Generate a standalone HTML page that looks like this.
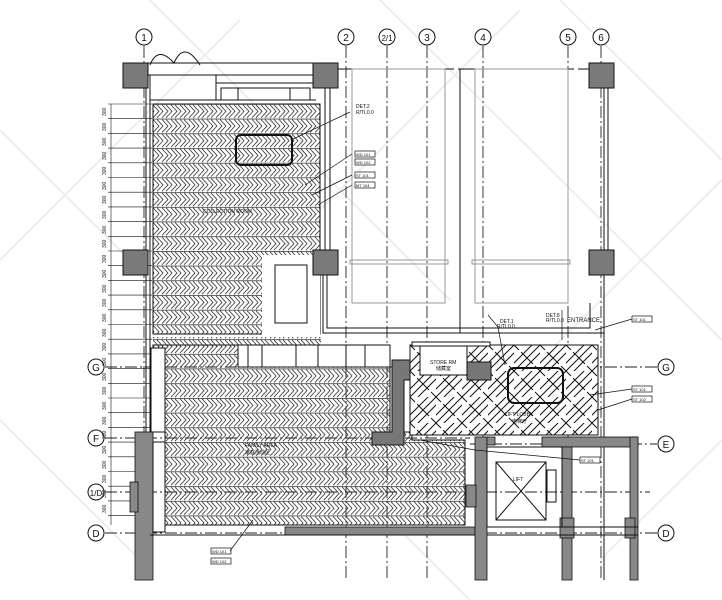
<!DOCTYPE html>
<html><head><meta charset="utf-8"><style>
html,body{margin:0;padding:0;background:#fff;}
svg{display:block;font-family:"Liberation Sans",sans-serif;}
</style></head><body>
<svg width="722" height="600" viewBox="0 0 722 600" xmlns="http://www.w3.org/2000/svg">
<defs>
<pattern id="hb" x="0" y="104" width="9" height="14.7" patternUnits="userSpaceOnUse">
<line x1="0" y1="0.3" x2="9" y2="0.3" stroke="#111" stroke-width="0.7"/>
<path d="M0,0.8 L6,7.3 L0,13.8 M4,0.8 L10,7.3 L4,13.8 M-5,0.8 L1,7.3 L-5,13.8 M9,0.8 L15,7.3 L9,13.8" fill="none" stroke="#333" stroke-width="0.8"/>
</pattern>
<pattern id="wv" x="410" y="345" width="26" height="26" patternUnits="userSpaceOnUse">
<rect width="26" height="26" fill="#fff"/>
<path d="M0,26 L26,0 M0,0 L26,26 M-4,22 L22,-4 M4,30 L30,4" fill="none" stroke="#111" stroke-width="1"/>
<path d="M3,9 L9,3 M17,23 L23,17" stroke="#fff" stroke-width="3"/>
</pattern>
</defs>

<!-- watermark diagonals -->
<g stroke="#eeeeee" stroke-width="2" fill="none">
<path d="M0,130 L200,330 M150,0 L450,300 M380,0 L722,340 M560,0 L722,160 M0,420 L150,570 M250,380 L470,600"/>
<path d="M0,260 L240,20 M200,330 L520,10 M450,450 L722,180 M600,560 L722,440"/>
</g>

<!-- grid lines -->
<g stroke="#222" stroke-width="0.9" stroke-dasharray="12,3,2,3" fill="none">
<line x1="144" y1="46" x2="144" y2="580"/>
<line x1="346" y1="46" x2="346" y2="580"/>
<line x1="387" y1="46" x2="387" y2="580"/>
<line x1="427" y1="46" x2="427" y2="580"/>
<line x1="483" y1="46" x2="483" y2="580"/>
<line x1="568" y1="46" x2="568" y2="580"/>
<line x1="601" y1="46" x2="601" y2="580"/>
<line x1="105" y1="367" x2="657" y2="367"/>
<line x1="105" y1="438" x2="470" y2="438"/>
<line x1="470" y1="444" x2="657" y2="444"/>
<line x1="105" y1="492" x2="650" y2="492"/>
<line x1="105" y1="533" x2="657" y2="533"/>
</g>

<!-- bubbles -->
<g fill="#fff" stroke="#111" stroke-width="1" font-size="10" text-anchor="middle">
<circle cx="144" cy="37" r="8"/><text x="144" y="41" stroke="none" fill="#111">1</text>
<circle cx="346" cy="37" r="8"/><text x="346" y="41" stroke="none" fill="#111">2</text>
<circle cx="387" cy="37" r="8"/><text x="387" y="41" stroke="none" fill="#111" font-size="8">2/1</text>
<circle cx="427" cy="37" r="8"/><text x="427" y="41" stroke="none" fill="#111">3</text>
<circle cx="483" cy="37" r="8"/><text x="483" y="41" stroke="none" fill="#111">4</text>
<circle cx="568" cy="37" r="8"/><text x="568" y="41" stroke="none" fill="#111">5</text>
<circle cx="601" cy="37" r="8"/><text x="601" y="41" stroke="none" fill="#111">6</text>
<circle cx="96" cy="367" r="8"/><text x="96" y="371" stroke="none" fill="#111">G</text>
<circle cx="96" cy="438" r="8"/><text x="96" y="442" stroke="none" fill="#111">F</text>
<circle cx="96" cy="492" r="8"/><text x="96" y="496" stroke="none" fill="#111" font-size="8">1/D</text>
<circle cx="96" cy="533" r="8"/><text x="96" y="537" stroke="none" fill="#111">D</text>
<circle cx="666" cy="367" r="8"/><text x="666" y="371" stroke="none" fill="#111">G</text>
<circle cx="666" cy="444" r="8"/><text x="666" y="448" stroke="none" fill="#111">E</text>
<circle cx="666" cy="533" r="8"/><text x="666" y="537" stroke="none" fill="#111">D</text>
</g>

<!-- left dimension string -->
<g stroke="#111" stroke-width="0.6" fill="none">
<line x1="111" y1="104" x2="111" y2="525"/>
<path d="M108,104h44 M108,118.7h44 M108,133.4h44 M108,148.1h44 M108,162.8h44 M108,177.5h44 M108,192.2h44 M108,206.9h44 M108,221.6h44 M108,236.3h44 M108,251h44 M108,265.7h44 M108,280.4h44 M108,295.1h44 M108,309.8h44 M108,324.5h44 M108,339.2h44 M108,353.9h44 M108,368.6h44 M108,383.3h44 M108,398h44 M108,412.7h44 M108,427.4h44 M108,442.1h44 M108,456.8h44 M108,471.5h44 M108,486.2h44 M108,500.9h44 M108,515.6h44"/>
</g>
<g font-size="5" fill="#111">
<text transform="translate(106,116) rotate(-90)">300</text><text transform="translate(106,131) rotate(-90)">300</text><text transform="translate(106,146) rotate(-90)">300</text><text transform="translate(106,160) rotate(-90)">300</text><text transform="translate(106,175) rotate(-90)">300</text><text transform="translate(106,190) rotate(-90)">300</text><text transform="translate(106,204) rotate(-90)">300</text><text transform="translate(106,219) rotate(-90)">300</text><text transform="translate(106,234) rotate(-90)">300</text><text transform="translate(106,248) rotate(-90)">300</text><text transform="translate(106,263) rotate(-90)">300</text><text transform="translate(106,278) rotate(-90)">300</text><text transform="translate(106,293) rotate(-90)">300</text><text transform="translate(106,307) rotate(-90)">300</text><text transform="translate(106,322) rotate(-90)">300</text><text transform="translate(106,337) rotate(-90)">300</text><text transform="translate(106,351) rotate(-90)">300</text><text transform="translate(106,366) rotate(-90)">300</text><text transform="translate(106,381) rotate(-90)">300</text><text transform="translate(106,395) rotate(-90)">300</text><text transform="translate(106,410) rotate(-90)">300</text><text transform="translate(106,425) rotate(-90)">300</text><text transform="translate(106,439) rotate(-90)">300</text><text transform="translate(106,454) rotate(-90)">300</text><text transform="translate(106,469) rotate(-90)">300</text><text transform="translate(106,483) rotate(-90)">300</text><text transform="translate(106,498) rotate(-90)">300</text><text transform="translate(106,513) rotate(-90)">300</text>
</g>

<!-- top room walls -->
<g fill="none" stroke="#111" stroke-width="1">
<rect x="148" y="63" width="165" height="12"/>
<rect x="150" y="75" width="66" height="25"/>
<path d="M216,100 V83 H313 M221,100 V88 H310 V100"/>
<line x1="238" y1="88" x2="238" y2="100"/><line x1="290" y1="88" x2="290" y2="100"/>
<path d="M150,65 Q158,45 174,63 Q184,40 200,65"/>
<line x1="150" y1="100" x2="316" y2="100"/>
<line x1="150" y1="100" x2="150" y2="432"/>
<line x1="146" y1="88" x2="146" y2="432"/>
<line x1="325" y1="88" x2="325" y2="250"/>
<line x1="330" y1="88" x2="330" y2="250"/>
<path d="M323,274 V333 H604 M327,274 V328 H590 V303"/>
<line x1="604" y1="88" x2="604" y2="580"/><line x1="608" y1="88" x2="608" y2="250"/>
<line x1="338" y1="69" x2="589" y2="69" stroke-dasharray="20,4"/>
</g>
<g fill="none" stroke="#999" stroke-width="1">
<rect x="352" y="69" width="93" height="234"/>
<rect x="475" y="69" width="93" height="234"/>
<rect x="350" y="260" width="98" height="4"/>
<rect x="472" y="260" width="98" height="4"/>
</g>
<line x1="460" y1="69" x2="460" y2="333" stroke="#111" stroke-width="1"/>

<!-- herringbone areas -->
<rect x="153" y="104" width="167" height="230" fill="url(#hb)" stroke="#111" stroke-width="1"/>
<rect x="262" y="255" width="58" height="82" fill="#fff"/>
<rect x="275" y="265" width="32" height="58" fill="#fff" stroke="#111"/>
<path d="M153,345 H240 V367 H390 V432 H412 V440 H465 V525 H165 V432 H153 Z" fill="url(#hb)" stroke="#111"/>
<rect x="153" y="337" width="168" height="10" fill="url(#hb)"/>
<!-- bench -->
<g fill="#fff" stroke="#111">
<rect x="238" y="345" width="152" height="22"/>
<line x1="248" y1="345" x2="248" y2="367"/><line x1="262" y1="345" x2="262" y2="367"/><line x1="296" y1="345" x2="296" y2="367"/><line x1="318" y1="345" x2="318" y2="367"/><line x1="346" y1="345" x2="346" y2="367"/><line x1="365" y1="345" x2="365" y2="367"/>
<rect x="151" y="348" width="14" height="84"/>
</g>
<rect x="236" y="135" width="56" height="30" rx="5" fill="none" stroke="#111" stroke-width="2"/>

<!-- lobby weave -->
<path d="M410,345 H598 V435 H410 Z" fill="url(#wv)" stroke="#111"/>
<rect x="508" y="368" width="55" height="35" rx="6" fill="none" stroke="#111" stroke-width="2"/>
<rect x="420" y="345" width="47" height="30" fill="#fff" stroke="#111"/>
<rect x="412" y="342" width="78" height="4" fill="#fff" stroke="#111"/>

<!-- store room gray -->
<g fill="#777" stroke="#111" stroke-width="1">
<path d="M392,360 H410 V380 H404 V445 H372 V432 H392 Z"/>
<rect x="467" y="362" width="24" height="18"/>
</g>

<!-- columns -->
<g fill="#7a7a7a" stroke="#111" stroke-width="1">
<rect x="123" y="63" width="25" height="25"/><rect x="313" y="63" width="25" height="25"/><rect x="589" y="63" width="25" height="25"/>
<rect x="123" y="250" width="25" height="25"/><rect x="313" y="250" width="25" height="25"/><rect x="589" y="250" width="25" height="25"/>
</g>

<!-- lower walls -->
<g fill="#888" stroke="#111" stroke-width="0.8">
<rect x="135" y="432" width="18" height="148"/>
<rect x="130" y="482" width="8" height="30"/>
<rect x="285" y="527" width="190" height="8"/>
<rect x="475" y="437" width="12" height="143"/>
<rect x="487" y="437" width="8" height="8"/>
<rect x="542" y="437" width="96" height="10"/>
<rect x="562" y="447" width="10" height="133"/>
<rect x="630" y="437" width="8" height="143"/>
<rect x="466" y="485" width="10" height="22"/>
<rect x="560" y="518" width="14" height="20"/>
<rect x="625" y="518" width="10" height="20"/>
</g>
<g fill="none" stroke="#111" stroke-width="1">
<rect x="153" y="442" width="12" height="90"/>
<line x1="150" y1="535" x2="475" y2="535"/>
<rect x="487" y="447" width="75" height="80"/>
<rect x="496" y="462" width="50" height="58"/>
<path d="M496,462 L546,520 M546,462 L496,520"/>
<rect x="547" y="470" width="9" height="32"/>
<line x1="487" y1="527" x2="638" y2="527"/>
<line x1="487" y1="535" x2="638" y2="535"/>
</g>

<!-- labels / tags -->
<g font-size="5" fill="#111">
<text x="203" y="213">COLLECTION ROOM</text>
<text x="245" y="447">FAMILY AREA</text>
<text x="245" y="454">家庭活动区</text>
<text x="430" y="364">STORE RM</text><text x="436" y="370">储藏室</text>
<text x="505" y="416">LIFT LOBBY</text><text x="512" y="423">电梯厅</text>
<text x="513" y="481">LIFT</text>
<text x="356" y="108">DET.2</text><text x="356" y="114">R/TL0.0</text>
<text x="500" y="323">DET.1</text><text x="497" y="328">R/TL0.0</text>
<text x="546" y="317">DET.8</text><text x="546" y="322">R/TL0.0</text>
<text x="567" y="322" font-size="6">ENTRANCE</text>
</g>
<g fill="#fff" stroke="#111" stroke-width="0.7">
<rect x="355" y="151" width="20" height="6"/><rect x="355" y="159" width="20" height="6"/>
<rect x="355" y="172" width="20" height="6"/><rect x="355" y="182" width="20" height="6"/>
<rect x="632" y="316" width="20" height="6"/><rect x="632" y="386" width="20" height="6"/><rect x="632" y="396" width="20" height="6"/>
<rect x="580" y="457" width="20" height="6"/>
<rect x="211" y="548" width="20" height="6"/><rect x="211" y="558" width="20" height="6"/>
</g>
<g font-size="4" fill="#111">
<text x="356" y="156">WD 101</text><text x="356" y="164">WD 102</text><text x="356" y="177">ST 101</text><text x="356" y="187">MT 104</text>
<text x="633" y="321">ST 101</text><text x="633" y="391">ST 101</text><text x="633" y="401">ST 102</text><text x="581" y="462">ST 101</text>
<text x="212" y="553">WD 101</text><text x="212" y="563">WD 102</text>
</g>
<g fill="none" stroke="#111" stroke-width="0.7">
<path d="M291,140 L350,112 M305,185 L352,154 M312,195 L352,175 M318,205 L352,185"/>
<path d="M488,315 L498,327 L505,365 M595,330 L632,319 M590,395 L632,389 M598,410 L632,399"/>
<path d="M420,440 L475,450 L580,460 M230,551 L253,520"/>
<path d="M562,310 L562,340"/>
</g>
</svg>
</body></html>
